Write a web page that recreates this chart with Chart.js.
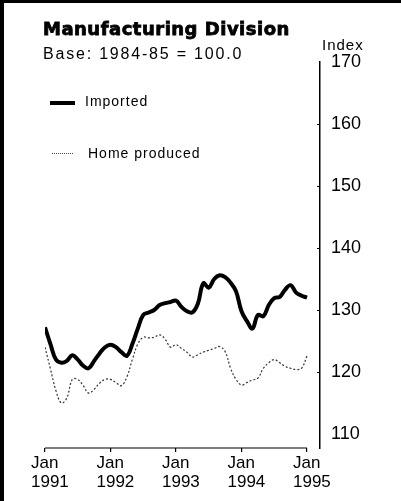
<!DOCTYPE html>
<html>
<head>
<meta charset="utf-8">
<script src="https://cdn.jsdelivr.net/npm/chart.js@4"></script>
<style>
  body { margin: 0; background: #fff; }
  #wrap { position: relative; width: 401px; height: 501px; overflow: hidden; font-family: 'Liberation Sans', Arial, sans-serif; color: #000; }
  #wrap canvas { position: absolute; left: 0; top: 0; }
  .txt { position: absolute; white-space: nowrap; line-height: 1; }
  .title { left: 43px; top: 20px; font-family: 'DejaVu Sans', sans-serif; font-size: 18px; font-weight: bold; letter-spacing: 0.5px; -webkit-text-stroke: 0.8px #000; }
  .sub { left: 43px; top: 46px; font-size: 16px; letter-spacing: 1.8px; }
  .index { left: 322px; top: 37px; font-size: 15px; letter-spacing: 1px; }
  .leg { font-size: 14px; letter-spacing: 1px; }
  .bar { position: absolute; background: #000; }
</style>
</head>
<body>
<div id="wrap">
  <canvas id="chart" width="401" height="501"></canvas>
  <div class="bar" style="left:0;top:0;width:4px;height:501px"></div>
  <div class="bar" style="left:0;top:0;width:401px;height:3px"></div>
  <div class="txt title">Manufacturing Division</div>
  <div class="txt sub">Base: 1984-85 = 100.0</div>
  <div class="txt index">Index</div>
  <div class="bar" style="left:50px;top:101px;width:25px;height:4px"></div>
  <div class="txt leg" style="left:85px;top:94px">Imported</div>
  <div style="position:absolute;left:52px;top:153px;width:21px;border-top:1px dotted #444"></div>
  <div class="txt leg" style="left:88px;top:146px">Home produced</div>
</div>
<script>
// monthly index, Jan 1991 .. Jan 1995
const imported = [
  127.2, 124.5, 122.0, 121.5, 121.8, 122.7, 122.0, 121.0, 120.6, 121.8, 123.0, 124.0,
  124.4, 124.0, 123.2, 122.6, 124.5, 127.0, 129.2, 129.6, 130.0, 130.8, 131.1, 131.3,
  131.5, 130.5, 129.8, 129.6, 131.0, 134.3, 133.6, 135.0, 135.6, 135.3, 134.4, 133.0,
  129.8, 128.2, 127.0, 129.2, 129.0, 130.8, 131.9, 132.1, 133.3, 134.0, 132.8, 132.3,
  132.0
];
const homeProduced = [
  124.0, 120.5, 117.0, 115.0, 115.8, 118.8, 118.8, 117.8, 116.6, 117.2, 118.2, 118.8,
  118.8, 118.3, 117.8, 119.2, 122.0, 124.5, 125.6, 125.5, 125.6, 126.0, 125.3, 124.0,
  124.4, 123.8, 123.2, 122.4, 122.8, 123.2, 123.5, 123.8, 124.1, 123.3, 120.6, 118.8,
  117.9, 118.3, 118.7, 119.0, 120.6, 121.5, 122.0, 121.5, 120.9, 120.6, 120.4, 120.6,
  122.6
];
const yearLabels = ['1991', '1992', '1993', '1994', '1995'];
const yTicks = [110, 120, 130, 140, 150, 160, 170];

const toPoints = arr => arr.map((v, i) => ({ x: i, y: v }));

Chart.defaults.font.family = "'Liberation Sans', Arial, sans-serif";
Chart.defaults.color = '#000';

const axisExtras = {
  id: 'axisExtras',
  afterDraw(chart) {
    const { ctx, chartArea, scales } = chart;
    const x = scales.x, y = scales.y;
    ctx.save();
    ctx.strokeStyle = '#000';
    // x axis line from first to last month only
    ctx.lineWidth = 1.2;
    ctx.beginPath();
    ctx.moveTo(x.getPixelForValue(0), chartArea.bottom);
    ctx.lineTo(x.getPixelForValue(imported.length - 1), chartArea.bottom);
    ctx.stroke();
    // small inward ticks on the index axis
    ctx.lineWidth = 1;
    yTicks.slice(1, -1).forEach(v => {
      const py = Math.round(y.getPixelForValue(v)) + 0.5;
      ctx.beginPath();
      ctx.moveTo(chartArea.right - 3, py);
      ctx.lineTo(chartArea.right, py);
      ctx.stroke();
    });
    ctx.restore();
  }
};

new Chart(document.getElementById('chart'), {
  type: 'line',
  data: {
    datasets: [
      {
        label: 'Imported',
        data: toPoints(imported),
        borderColor: '#000',
        borderWidth: 4,
        tension: 0.4,
        pointRadius: 0
      },
      {
        label: 'Home produced',
        data: toPoints(homeProduced),
        borderColor: '#333',
        borderWidth: 1.2,
        borderDash: [2, 2],
        tension: 0.4,
        pointRadius: 0
      }
    ]
  },
  options: {
    responsive: false,
    animation: false,
    layout: { padding: { left: 45, top: 62, right: 0, bottom: 0 } },
    plugins: { legend: { display: false }, tooltip: { enabled: false } },
    scales: {
      x: {
        type: 'linear',
        min: 0,
        max: 50.38,
        afterBuildTicks: s => { s.ticks = yearLabels.map((_, i) => ({ value: i * 12 })); },
        afterFit: s => { s.height = 53; },
        grid: { display: true, drawOnChartArea: false, drawTicks: true, tickLength: 4, color: '#000', lineWidth: 1.2 },
        border: { display: false },
        ticks: {
          align: 'start',
          labelOffset: -14,
          padding: 2,
          maxRotation: 0,
          autoSkip: false,
          font: { size: 17, lineHeight: 1.1 },
          callback: v => ['Jan', yearLabels[v / 12]]
        }
      },
      y: {
        position: 'right',
        min: 107.74,
        max: 170,
        afterBuildTicks: s => { s.ticks = yTicks.map(v => ({ value: v })); },
        afterFit: s => { s.width = 81; },
        grid: { display: false },
        border: { display: true, color: '#000', width: 1.5 },
        ticks: { padding: 3, font: { size: 18 } }
      }
    }
  },
  plugins: [axisExtras]
});
</script>
</body>
</html>
